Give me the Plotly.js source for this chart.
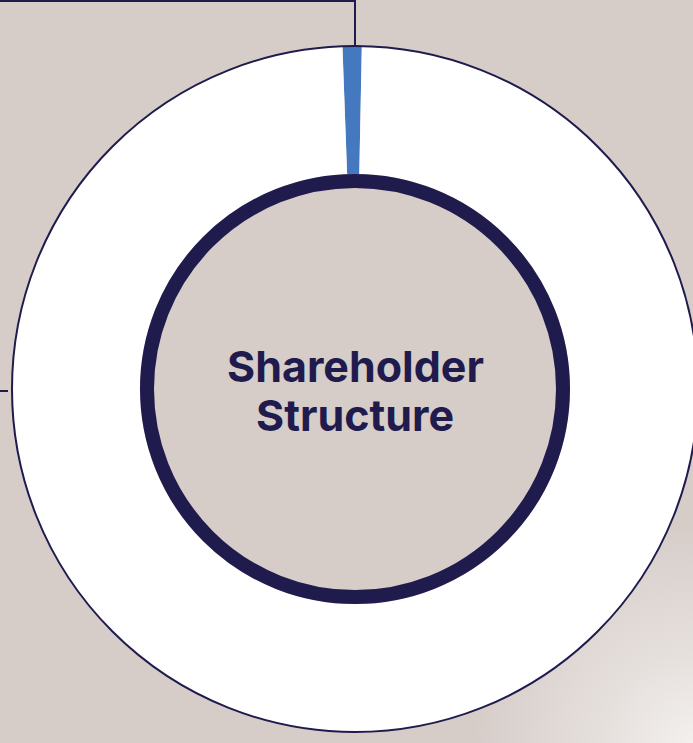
<!DOCTYPE html>
<html>
<head>
<meta charset="utf-8">
<script src="https://cdn.plot.ly/plotly-3.0.1.min.js"></script>
<style>
html,body{margin:0;padding:0;overflow:hidden;width:693px;height:743px;}
body{background:radial-gradient(circle at 100% 100%, #f3f0ee 0px, #e6e0dd 90px, #d6cdc9 220px);}
#chart{width:710px;height:743px;}
</style>
</head>
<body>
<div id="chart"></div>
<script>
// Data
const labels = ["Minority shareholder", "Majority shareholder"];
const values = [0.9, 99.1];
const colors = ["#4479bf", "#ffffff"];
const centerTitle = ["Shareholder", "Structure"];

const W = 710, H = 743;
const navy = "#1f1b4d";
function px(x){return x / W;}
function py(y){return 1 - y / H;}

const cx = 355, cy = 389, R = 343, ringR = 208;
const titleRows = [365.5, 414.5];

const data = [{
  type: "pie",
  labels: labels,
  values: values,
  marker: {colors: colors, line: {width: 0}},
  hole: 0.627,
  sort: false,
  direction: "clockwise",
  rotation: -2.1,
  textinfo: "none",
  hoverinfo: "none",
  showlegend: false,
  domain: {x: [px(cx - R), px(cx + R)], y: [py(cy + R), py(cy - R)]}
}];

const layout = {
  width: W, height: H,
  margin: {l: 0, r: 0, t: 0, b: 0},
  paper_bgcolor: "rgba(0,0,0,0)",
  plot_bgcolor: "rgba(0,0,0,0)",
  showlegend: false,
  shapes: [
    {type: "circle", xref: "paper", yref: "paper",
     x0: px(cx - R), x1: px(cx + R), y0: py(cy + R), y1: py(cy - R),
     line: {color: navy, width: 2}},
    {type: "circle", xref: "paper", yref: "paper",
     x0: px(cx - ringR), x1: px(cx + ringR), y0: py(cy + ringR), y1: py(cy - ringR),
     line: {color: navy, width: 14}},
    {type: "path", xref: "paper", yref: "paper",
     path: `M ${px(0)},${py(1)} L ${px(355)},${py(1)} L ${px(355)},${py(46)}`,
     line: {color: navy, width: 2}},
    {type: "line", xref: "paper", yref: "paper",
     x0: px(0), x1: px(8), y0: py(391), y1: py(391),
     line: {color: navy, width: 2}}
  ],
  annotations: centerTitle.map((t, i) => ({
    xref: "paper", yref: "paper",
    x: px(cx), y: py(titleRows[i]),
    xanchor: "center", yanchor: "middle",
    showarrow: false,
    text: "<b>" + t + "</b>",
    font: {family: "Inter, 'Open Sans', sans-serif", size: 43, color: navy}
  }))
};

Plotly.newPlot("chart", data, layout, {displayModeBar: false, staticPlot: true});
</script>
</body>
</html>
